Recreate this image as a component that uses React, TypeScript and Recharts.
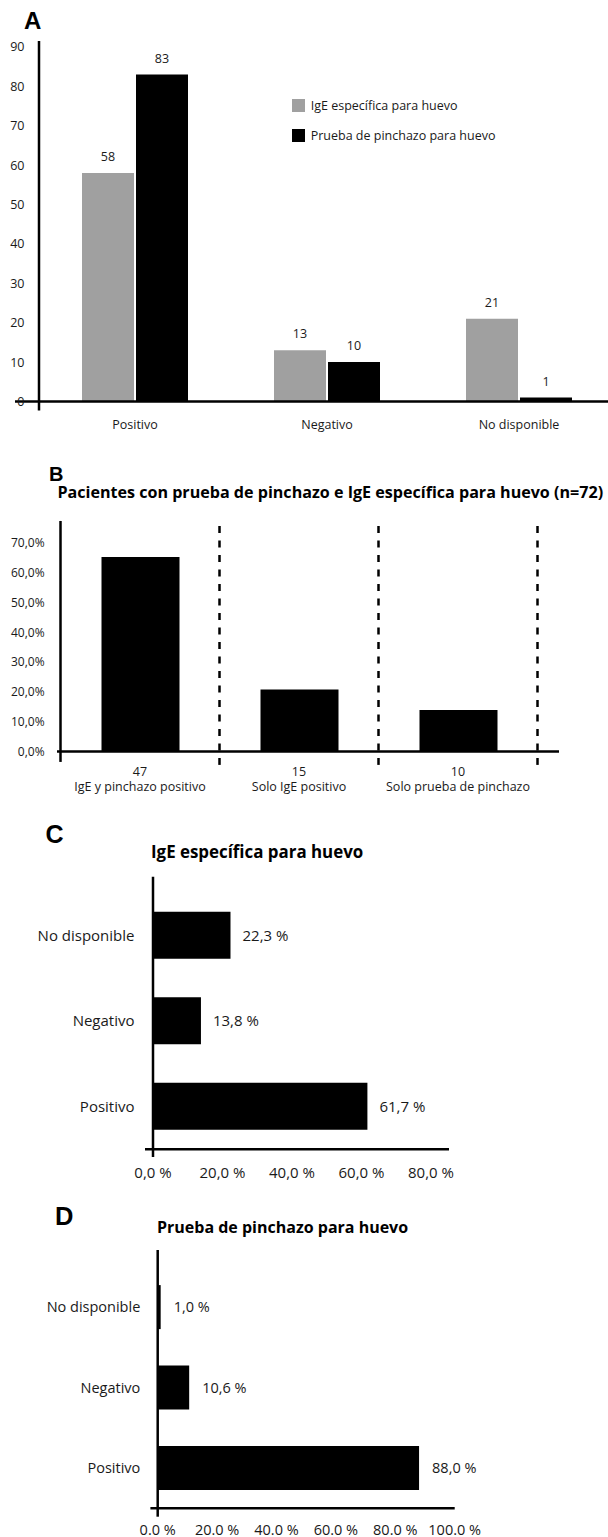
import React from "react";
import { BarChart, Bar, XAxis, YAxis, ReferenceLine, LabelList, Legend } from "recharts";

const FONT = "'Open Sans', sans-serif";
const HEAD = "'Liberation Sans', Arial, sans-serif";
const INK = "#1a1a1a";
const GREY = "#a0a0a0";

// A: counts per result
const resultCats = ["Positivo", "Negativo", "No disponible"];
const igeCounts = [58, 13, 21];
const prickCounts = [83, 10, 1];
const countTicks = [0, 10, 20, 30, 40, 50, 60, 70, 80, 90];

// B: patients with both tests (n=72)
const bothCounts = [47, 15, 10];
const bothLabels = ["IgE y pinchazo positivo", "Solo IgE positivo", "Solo prueba de pinchazo"];
const bothPct = [65.3, 20.8, 13.9];
const pctTicksB = [0, 10, 20, 30, 40, 50, 60, 70];

// C: IgE específica
const hbarCats = ["No disponible", "Negativo", "Positivo"];
const igePct = [22.3, 13.8, 61.7];
const pctTicksC = [0, 20, 40, 60, 80];

// D: prueba de pinchazo
const prickPct = [1.0, 10.6, 88.0];
const pctTicksD = [0, 20, 40, 60, 80, 100];

const comma = (v: number) => v.toFixed(1).replace(".", ",");

// stub: length of the y axis line below the x axis (drawn on the 0 tick only)
function BottomTick({ x, y, payload, offY, fs, fmt, stub }: any) {
  return (
    <g>
      {stub && payload.value === 0 ? <line x1={x} x2={x} y1={y - 1} y2={y + stub} stroke="#000" strokeWidth={2.5} /> : null}
      <text x={x} y={y + offY} textAnchor="middle" fontSize={fs} fontFamily={FONT} fill={INK}>
        {fmt ? fmt(payload.value) : payload.value}
      </text>
    </g>
  );
}

function LeftTick({ x, y, payload, offX, fs, fmt }: any) {
  return (
    <text x={x - offX} y={y + fs * 0.357} textAnchor="end" fontSize={fs} fontFamily={FONT} fill={INK}>
      {fmt ? fmt(payload.value) : payload.value}
    </text>
  );
}

function TwoLineTick({ x, y, payload, index }: any) {
  return (
    <g>
      <text x={x} y={y + 24.8} textAnchor="middle" fontSize={12.5} fontFamily={FONT} fill={INK}>
        {bothCounts[index]}
      </text>
      <text x={x} y={y + 39.1} textAnchor="middle" fontSize={12.5} fontFamily={FONT} fill={INK}>
        {payload.value}
      </text>
    </g>
  );
}

function LegendA({ payload }: any) {
  return (
    <div style={{ fontFamily: FONT, fontSize: 12.5, color: INK }}>
      {(payload || []).map((p: any, i: number) => (
        <div key={i} style={{ display: "flex", alignItems: "center", height: 30, whiteSpace: "nowrap" }}>
          <span style={{ display: "inline-block", width: 13, height: 13, background: p.color, marginRight: 6 }} />
          {p.value}
        </div>
      ))}
    </div>
  );
}

const solid = { stroke: "#000", strokeWidth: 2.5 };
const overLine = { ...solid, ifOverflow: "visible" as const };

function PanelA() {
  const data = resultCats.map((cat, i) => ({ cat, ige: igeCounts[i], prick: prickCounts[i] }));
  return (
    <div style={{ position: "absolute", left: 0, top: 0 }}>
      <BarChart width={615} height={440} data={data} margin={{ top: 47, right: 0, bottom: 0, left: 0 }} barGap={2}>
        <XAxis dataKey="cat" height={38.5} padding={{ left: 24, right: 0 }} axisLine={solid} tickLine={false}
          tickSize={0} tickMargin={0} interval={0} tick={(p: any) => <BottomTick {...p} offY={27} fs={12.5} />} />
        <YAxis width={15} domain={[0, 90]} ticks={countTicks} axisLine={false} tickLine={false} tickSize={0} tickMargin={0}
          interval={0} tick={(p: any) => <LeftTick {...p} offX={-9.5} fs={12.5} />} />
        <Legend content={LegendA} layout="vertical" align="center" verticalAlign="middle"
          wrapperStyle={{ left: 291.7, top: 90.5, width: 260 }} />
        <Bar dataKey="ige" name="IgE específica para huevo" fill={GREY} barSize={52} isAnimationActive={false}>
          <LabelList dataKey="ige" position="top" offset={12} fill={INK} fontSize={12.5} fontFamily={FONT} />
        </Bar>
        <Bar dataKey="prick" name="Prueba de pinchazo para huevo" fill="#000" barSize={52} isAnimationActive={false}>
          <LabelList dataKey="prick" position="top" offset={12} fill={INK} fontSize={12.5} fontFamily={FONT} />
        </Bar>
        <ReferenceLine position="start" segment={[{ x: resultCats[0], y: -2.3 }, { x: resultCats[0], y: 91.5 }]} {...overLine} />
      </BarChart>
    </div>
  );
}

function PanelB() {
  const data = bothLabels.map((label, i) => ({ label, pct: bothPct[i] }));
  return (
    <div style={{ position: "absolute", left: 0, top: 505 }}>
      <BarChart width={580} height={295} data={data} margin={{ top: 38, right: 21, bottom: 0, left: 0 }}>
        <XAxis dataKey="label" height={48.5} padding={{ left: 3.5, right: 21.5 }} axisLine={solid} tickLine={false}
          tickSize={0} tickMargin={0} interval={0} tick={(p: any) => <TwoLineTick {...p} />} />
        <YAxis width={57} domain={[0, 70]} ticks={pctTicksB} axisLine={false} tickLine={false} tickSize={0} tickMargin={0}
          interval={0} tick={(p: any) => <LeftTick {...p} offX={12.4} fs={12} fmt={(v: number) => comma(v) + "%"} />} />
        <Bar dataKey="pct" fill="#000" barSize={78} isAnimationActive={false} />
        {bothLabels.map((b) => (
          <ReferenceLine key={b} position="end" segment={[{ x: b, y: -4.5 }, { x: b, y: 77.4 }]}
            stroke="#000" strokeWidth={2.5} strokeDasharray="7 7.5" ifOverflow="visible" />
        ))}
        <ReferenceLine position="start" segment={[{ x: bothLabels[0], y: -3.5 }, { x: bothLabels[0], y: 77.4 }]} {...overLine} />
      </BarChart>
    </div>
  );
}

// horizontal bars: the plot area spans both axis lines, axis padding places the data inside it
function HBarPanel({ top, values, ticks, max, yw, width, plotRight, padLeft, padRight, mTop, padTop, xh, height,
  barSize, fs, catOff, valOff, tickOffY, tickFmt, stub }: any) {
  const data = hbarCats.map((cat, i) => ({ cat, v: values[i] }));
  return (
    <div style={{ position: "absolute", left: 0, top }}>
      <BarChart layout="vertical" width={width} height={height} data={data}
        margin={{ top: mTop, right: width - plotRight, bottom: 0, left: 0 }}>
        <XAxis type="number" domain={[0, max]} ticks={ticks} height={xh} padding={{ left: padLeft, right: padRight }}
          axisLine={solid} tickLine={false} tickSize={0} tickMargin={0} interval={0}
          tick={(p: any) => <BottomTick {...p} offY={tickOffY} fs={fs} fmt={tickFmt} stub={stub} />} />
        <YAxis type="category" dataKey="cat" width={yw} padding={{ top: padTop, bottom: 0 }} axisLine={false}
          tickLine={false} tickSize={0} tickMargin={0} interval={0} tick={(p: any) => <LeftTick {...p} offX={catOff} fs={fs} />} />
        <Bar dataKey="v" fill="#000" barSize={barSize} isAnimationActive={false}>
          <LabelList dataKey="v" position="right" offset={valOff} fill={INK} fontSize={fs} fontFamily={FONT}
            formatter={(v: any) => comma(Number(v)) + " %"} />
        </Bar>
        <ReferenceLine x={0} {...solid} />
      </BarChart>
    </div>
  );
}

export default function App() {
  return (
    <div style={{ position: "absolute", left: 0, top: 0, width: 608, height: 1537, overflow: "hidden", background: "#fff" }}>
      <PanelA />
      <PanelB />
      <HBarPanel top={860} values={igePct} ticks={pctTicksC} max={80} yw={145} padLeft={8} padRight={18} width={491}
        plotRight={449} height={330} mTop={16.7} padTop={16} xh={40.7} barSize={47} fs={15} catOff={10.5}
        valOff={12} tickOffY={29.1} stub={7.7} tickFmt={(v: number) => comma(v) + " %"} />
      <HBarPanel top={1237} values={prickPct} ticks={pctTicksD} max={100} yw={150.4} padLeft={7.3} padRight={0} width={495}
        plotRight={454.7} height={300} mTop={13} padTop={17.1} xh={28.7} barSize={44} fs={14.5} catOff={10.1}
        valOff={13} tickOffY={26.2} stub={8.4} tickFmt={(v: number) => v.toFixed(1) + " %"} />
      <svg width={608} height={1537} style={{ position: "absolute", left: 0, top: 0, pointerEvents: "none" }}>
        <text x={24} y={29.3} fontFamily={HEAD} fontWeight="bold" fontSize={24} fill="#000">A</text>
        <text x={49} y={481} fontFamily={HEAD} fontWeight="bold" fontSize={20} fill="#000">B</text>
        <text x={57.4} y={497.5} fontFamily={FONT} fontWeight="bold" fontSize={16.1} fill="#000">
          Pacientes con prueba de pinchazo e IgE específica para huevo (n=72)
        </text>
        <text x={45.5} y={843} fontFamily={HEAD} fontWeight="bold" fontSize={25} fill="#000">C</text>
        <text x={151} y={857.5} fontFamily={FONT} fontWeight="bold" fontSize={16.9} fill="#000">IgE específica para huevo</text>
        <text x={55} y={1225} fontFamily={HEAD} fontWeight="bold" fontSize={25.5} fill="#000">D</text>
        <text x={157} y={1233} fontFamily={FONT} fontWeight="bold" fontSize={16} fill="#000">Prueba de pinchazo para huevo</text>
      </svg>
    </div>
  );
}
